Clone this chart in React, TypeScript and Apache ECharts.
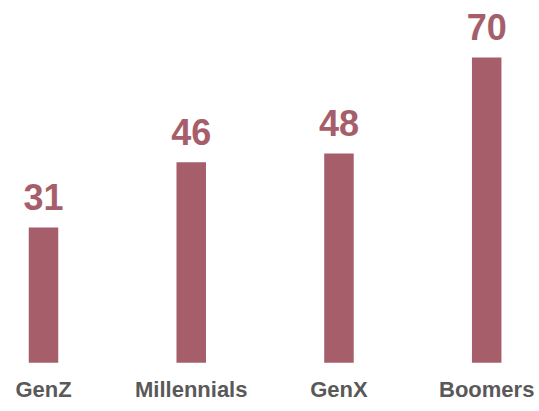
import React, { useEffect, useRef } from "react";
import * as echarts from "echarts";

const categories = ["GenZ", "Millennials", "GenX", "Boomers"];
const values = [31, 46, 48, 70];

export default function App() {
  const ref = useRef<HTMLDivElement>(null);
  useEffect(() => {
    if (!ref.current) return;
    const chart = echarts.init(ref.current, null, { renderer: "svg" });
    chart.setOption({
      animation: false,
      backgroundColor: "#ffffff",
      grid: { left: 43.5, right: 52.3, top: 57.5, bottom: 48.3 },
      xAxis: {
        type: "category",
        data: categories,
        boundaryGap: false,
        axisLine: { show: false },
        axisTick: { show: false },
        axisLabel: {
          color: "#595959",
          fontFamily: "Liberation Sans, Arial, sans-serif",
          fontWeight: "bold",
          fontSize: 22,
          margin: 15.5,
        },
      },
      yAxis: {
        type: "value",
        min: 0,
        max: 70,
        show: false,
        splitLine: { show: false },
      },
      series: [
        {
          type: "bar",
          data: values,
          barWidth: 29.5,
          itemStyle: { color: "#A65E6A" },
          label: {
            show: true,
            position: "top",
            distance: 12,
            color: "#A65E6A",
            fontFamily: "Liberation Sans, Arial, sans-serif",
            fontWeight: "bold",
            fontSize: 36,
          },
        },
      ],
    });
    return () => chart.dispose();
  }, []);
  return (
    <div
      ref={ref}
      style={{ position: "fixed", left: 0, top: 0, width: 539, height: 411 }}
    />
  );
}
